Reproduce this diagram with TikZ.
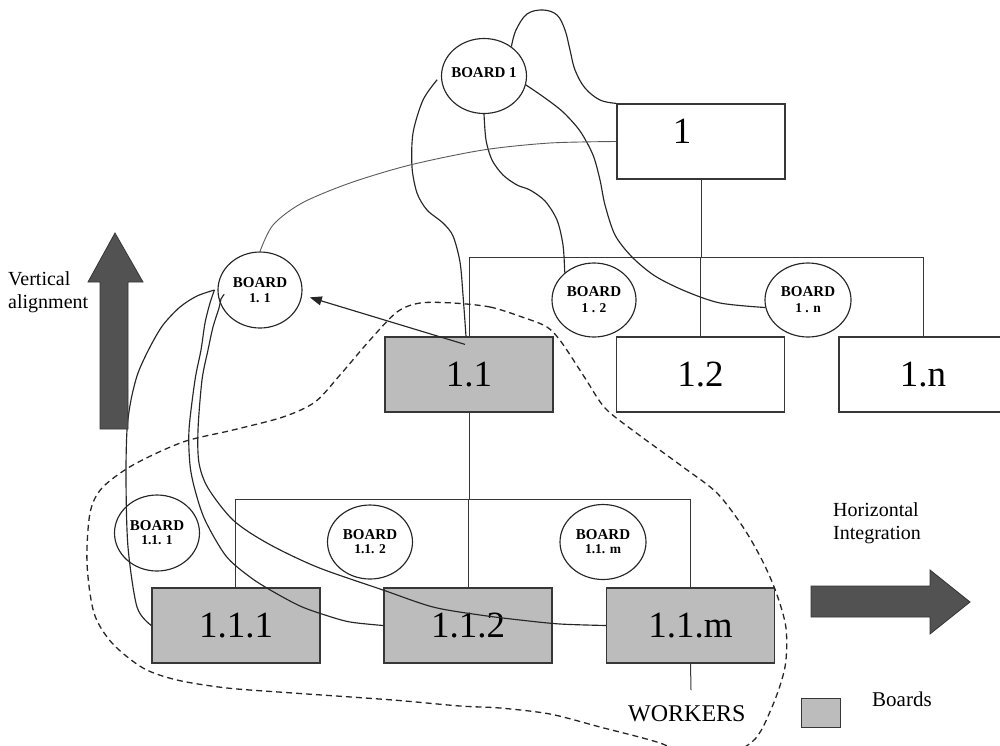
\documentclass[tikz,border=0pt]{standalone}
\usepackage{fontspec}
\setmainfont{Liberation Serif}
\usetikzlibrary{shapes.geometric,arrows.meta}
\definecolor{boardgray}{RGB}{188,188,188}
\definecolor{arrowgray}{RGB}{82,82,82}
\definecolor{linegray}{RGB}{55,55,55}
\newcommand\zw[1]{\makebox[0pt]{#1}}
\begin{document}
\begin{tikzpicture}[x=1pt,y=-1pt,
  unit/.style={rectangle, draw=linegray, line width=1.2pt, minimum width=168pt,
    minimum height=75pt, inner sep=0pt, font=\fontsize{37}{37}\selectfont},
  boardunit/.style={unit, fill=boardgray},
  board/.style={ellipse, draw=black!85, line width=1.15pt, minimum width=85pt,
    minimum height=75pt, inner sep=0pt, align=center,
    font=\bfseries\fontsize{15}{17}\selectfont},
  tree/.style={draw=linegray, line width=1pt},
  tie/.style={draw=black!85, line width=1.15pt},
  thintie/.style={draw=black!65, line width=0.9pt},
  enclosure/.style={draw=black!85, line width=1.3pt, dash pattern=on 6pt off 4pt},
  bigarrow/.style={fill=arrowgray, draw=black!80, line width=0.8pt},
  caption/.style={font=\fontsize{20}{23}\selectfont, align=left, inner sep=0pt},
]
\useasboundingbox (0,0) rectangle (1000,745);
\clip (0,0) rectangle (1000,745);

% organisational units
\node[unit] (b1) at (701,141.5) {};
\node[font=\fontsize{37}{37}\selectfont, inner sep=0pt] (b1lbl) at (682,131) {1};
\node[boardunit] (b11) at (469,374.5) {1.1};
\node[unit] (b12) at (700.5,374.5) {1.2};
\node[unit] (b1n) at (923,374.5) {1.n};
\node[boardunit] (b111) at (236,625.5) {1.1.1};
\node[boardunit] (b112) at (468,625.5) {1.1.2};
\node[boardunit] (b11m) at (690.5,625.5) {1.1.m};

% boards
\node[board] (c1) at (484,76) {\zw{\raisebox{7pt}{BOARD 1}}};
\node[board, minimum width=84pt, minimum height=76pt] (c11) at (260,290)
  {\zw{BOARD}\\[-2pt]\zw{\fontsize{13.5}{15}\selectfont 1. 1}};
\node[board, minimum width=84pt, minimum height=74pt] (c12) at (594,300)
  {\zw{BOARD}\\[-1pt]\zw{\fontsize{13.5}{15}\selectfont 1 . 2}};
\node[board, minimum width=86pt, minimum height=74pt] (c1n) at (808,300)
  {\zw{BOARD}\\[-1pt]\zw{\fontsize{13.5}{15}\selectfont 1 . n}};
\node[board, minimum height=76pt] (c111) at (157,533)
  {\zw{BOARD}\\[-3pt]\zw{\fontsize{13.5}{15}\selectfont 1.1. 1}};
\node[board, minimum height=74pt] (c112) at (370,542)
  {\zw{BOARD}\\[-3pt]\zw{\fontsize{13.5}{15}\selectfont 1.1. 2}};
\node[board, minimum width=86pt] (c11m) at (603,542)
  {\zw{BOARD}\\[-3pt]\zw{\fontsize{13.5}{15}\selectfont 1.1. m}};

% hierarchy lines
\coordinate (j1) at (700,257);
\coordinate (j2) at (469,499);
\draw[tree] (b1.south) -- (b1.south |- j1);
\draw[tree] (b11.north) -- (b11.north |- j1) -- (b1n.north |- j1) -- (b1n.north);
\draw[tree] (b12.north) -- (b12.north |- j1);
\draw[tree] (b11.south) -- (j2);
\draw[tree] ([xshift=-1pt]b111.north) -- ([xshift=-1pt]b111.north |- j2)
  -- (b11m.north |- j2) -- (b11m.north);
\draw[tree] (b112.north) -- (b112.north |- j2);
\coordinate (wk) at (691,690);
\draw[tree] (b11m.south) -- (wk);
\node[inner sep=0pt, anchor=north west, font=\fontsize{24}{24}\selectfont] (workers) at (628,705) {WORKERS};

% board links
\draw[tie] plot[smooth, tension=0.6] coordinates {(c1.47) (516,30) (527,14) (543,10)
  (557,15) (565,30) (570,50) (575,70) (585,88) (600,100) (b1.north west)};
\draw[tie] plot[smooth] coordinates {([xshift=-4pt]c1.185) (423,100) (413,133) (412,167)
  (417,193) (427,210) (443,223) (453,236) (460,262) (463,295) ([xshift=-3pt]b11.north)};
\draw[tie] plot[smooth] coordinates {(c1.south) (486,140) (492,160) (503,175) (517,185)
  (530,190) (545,201) (557,220) (563,245) (c12.137)};
\draw[tie] plot[smooth] coordinates {(c1.-12) (545,98) (563,112) (580,131) (593,155)
  (600,180) (605,205) (615,235) (632,257) (655,276) (685,291) (720,303) (c1n.190)};
\draw[thintie] plot[smooth] coordinates {(b1.west) (550,143) (483,150) (410,165)
  (350,183) (302,203) (273,225) (c11.north)};
\draw[tie] plot[smooth] coordinates {([xshift=-3pt]c11.west) (197,296) (180,307) (163,325)
  (150,347) (138,373) (131,400) (127,430) (126,480) (128,547) (137,607) (b111.west)};
\draw[tie] plot[smooth] coordinates {([xshift=-3pt]c11.west) (210,303) (205,323) (201,350)
  (195,380) (189,430) (190,465) (195,490) (205,520) (226,556) (250,577) (272,591)
  (300,606) (325,615) (350,622) (b112.west)};
\draw[tie] plot[smooth] coordinates {([xshift=6pt,yshift=3pt]c11.190) (221,299) (219,308)
  (213,327) (208,350) (202,380) (198,430) (199,463) (208,488) (233,520) (267,543)
  (317,567) (383,590) (433,607) (480,615) (520,620) (560,624) (b11m.west)};
\draw[tie, -{Triangle[length=12pt,width=9pt]}] ([xshift=-4pt,yshift=-8pt]b11.north)
  -- ([xshift=8pt]c11.-10);

% boundary of the 1.1 group
\draw[enclosure] plot[smooth cycle, tension=0.5] coordinates {
  (453,303) (490,307) (522,317) (547,327) (562,343) (585,378) (605,408) (635,432)
  (683,467) (717,493) (743,527) (762,560) (776,592) (786,628) (785,667) (772,707)
  (752,742) (705,762) (660,743) (600,727) (550,714) (500,708) (460,706) (393,700)
  (293,693) (227,688) (177,680) (143,668) (112,643) (94,613) (87,563) (90,513)
  (102,488) (133,465) (183,442) (233,430) (283,417) (315,402) (340,375) (370,340)
  (397,312) (420,303)};

% direction arrows and captions
\draw[bigarrow] (100,429) -- (128,429) -- (128,282) -- (143,282) -- (115,233)
  -- (88,282) -- (100,282) -- cycle;
\node[caption, anchor=north west] (vert) at (8,271) {Vertical\\alignment};
\draw[bigarrow] (811,586) -- (930,586) -- (930,570) -- (970,602) -- (930,634)
  -- (930,617) -- (811,617) -- cycle;
\node[caption, anchor=north west] (horiz) at (833,502) {Horizontal\\Integration};

% legend
\node[draw=linegray, line width=1pt, fill=boardgray, minimum width=39pt,
  minimum height=29pt, inner sep=0pt] (legend) at (820.5,712.5) {};
\node[caption, anchor=north west, font=\fontsize{21}{23}\selectfont] (legendtxt) at (872,692) {Boards};
\end{tikzpicture}
\end{document}
